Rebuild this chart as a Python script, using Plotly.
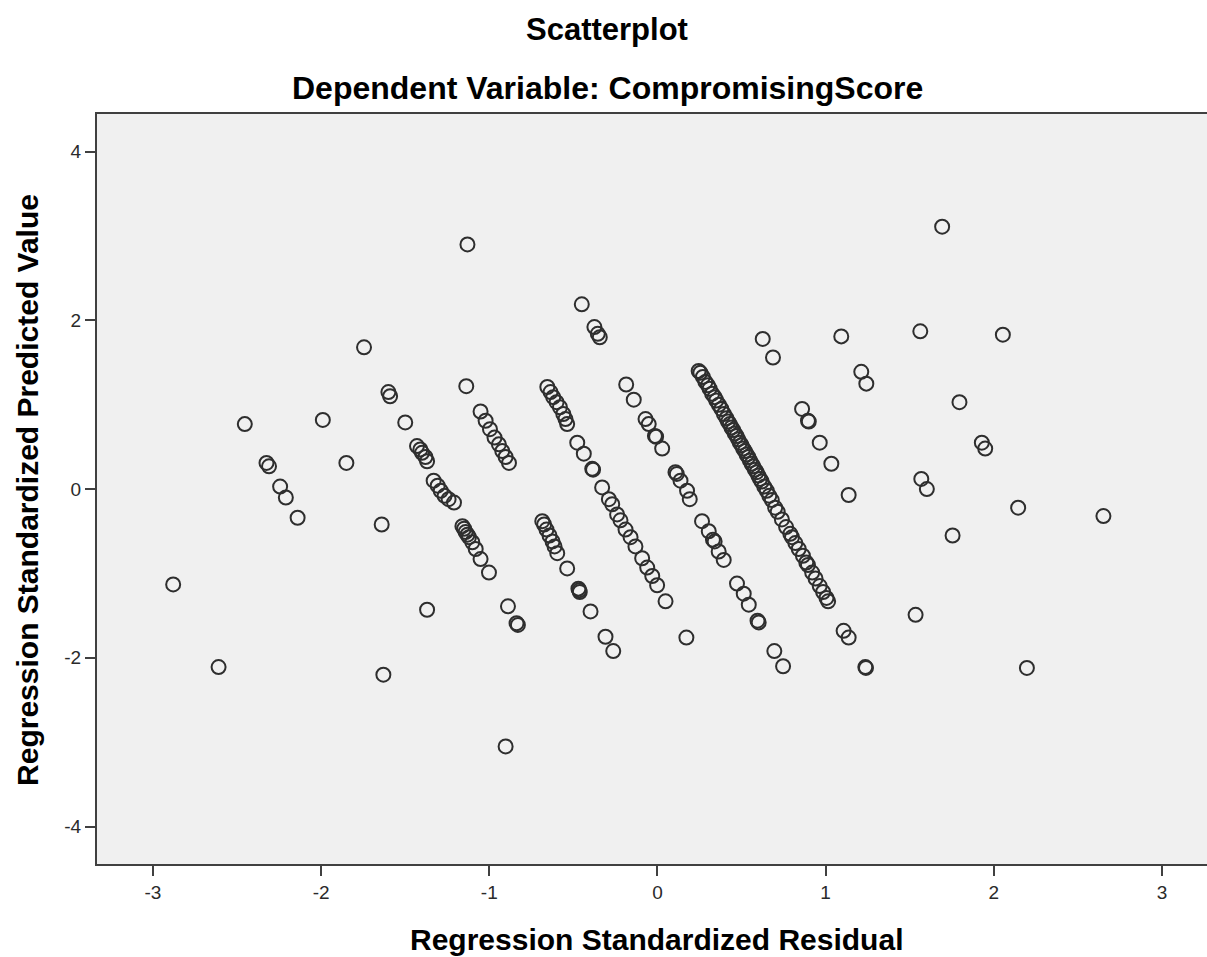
import plotly.graph_objects as go

# Regression Standardized Residual (x) and Regression Standardized Predicted Value (y)
residual = [
    # left, sparse
    -2.88, -2.61, -2.454, -2.325, -2.31, -2.244, -2.21, -2.14, -1.99, -1.85, -1.745,
    -1.64, -1.63, -1.60, -1.59, -1.50, -1.43, -1.41, -1.40, -1.38, -1.37, -1.37,
    # centre-left
    -1.13, -0.45, -0.375, -0.355, -0.343, -1.137,
    -1.052, -1.022, -0.996, -0.969, -0.943, -0.923, -0.903, -0.883,
    -0.655, -0.636, -0.620, -0.600, -0.580, -0.560, -0.547, -0.537,
    -0.477, -0.438, -0.388, -0.383,
    -0.186, -0.141, -0.071, -0.052, -0.015, -0.008, 0.028,
    -1.331, -1.307, -1.289, -1.266, -1.242, -1.21,
    -1.160, -1.150, -1.141, -1.130, -1.121, -1.101, -1.081, -1.052, -1.002,
    -0.889, -0.838, -0.830, -0.903,
    -0.685, -0.674, -0.660, -0.642, -0.624, -0.612, -0.596,
    -0.537, -0.470, -0.465, -0.462, -0.398, -0.309, -0.263,
    -0.329, -0.289, -0.269, -0.240, -0.220, -0.190, -0.160, -0.131, -0.091, -0.061, -0.031, -0.002, 0.048,
    # centre-right
    0.626, 0.687, 1.093, 1.212, 1.242, 0.860, 0.895, 0.900, 0.965, 1.034, 1.137,
    0.107, 0.115, 0.137, 0.176, 0.192,
    0.265, 0.305, 0.330, 0.340, 0.364, 0.394,
    0.473, 0.513, 0.543, 0.595, 0.602,
    0.172, 0.695, 0.747, 1.107, 1.137, 1.236, 1.240,
    # main dense diagonal
    0.245, 0.255, 0.270, 0.285, 0.300, 0.310, 0.325, 0.340, 0.350, 0.365, 0.380, 0.395,
    0.410, 0.420, 0.430, 0.440, 0.450, 0.460, 0.470, 0.480, 0.490, 0.500, 0.510, 0.520,
    0.530, 0.540, 0.550, 0.560, 0.570, 0.580, 0.590, 0.600, 0.610, 0.620, 0.635, 0.650,
    0.665, 0.680, 0.700, 0.715, 0.740, 0.765, 0.790, 0.800, 0.820, 0.840, 0.865, 0.885,
    0.895, 0.920, 0.940, 0.965, 0.985, 1.005, 1.015,
    # right, sparse
    1.693, 1.563, 2.054, 1.796, 1.929, 1.949, 1.569, 1.602, 2.145, 2.652, 1.755, 1.535, 2.197,
]

predicted = [
    # left, sparse
    -1.13, -2.11, 0.77, 0.31, 0.27, 0.03, -0.10, -0.34, 0.82, 0.31, 1.68,
    -0.42, -2.20, 1.15, 1.10, 0.79, 0.51, 0.47, 0.43, 0.38, 0.33, -1.43,
    # centre-left
    2.90, 2.19, 1.92, 1.84, 1.80, 1.22,
    0.92, 0.81, 0.71, 0.61, 0.53, 0.45, 0.38, 0.31,
    1.21, 1.15, 1.09, 1.03, 0.97, 0.89, 0.83, 0.77,
    0.55, 0.42, 0.24, 0.23,
    1.24, 1.06, 0.83, 0.77, 0.63, 0.62, 0.48,
    0.10, 0.04, -0.02, -0.08, -0.12, -0.16,
    -0.44, -0.47, -0.51, -0.54, -0.57, -0.63, -0.71, -0.83, -0.99,
    -1.39, -1.59, -1.61, -3.05,
    -0.38, -0.42, -0.48, -0.55, -0.62, -0.68, -0.76,
    -0.94, -1.18, -1.20, -1.22, -1.45, -1.75, -1.92,
    0.02, -0.12, -0.18, -0.30, -0.37, -0.48, -0.57, -0.68, -0.82, -0.93, -1.03, -1.14, -1.33,
    # centre-right
    1.78, 1.56, 1.81, 1.39, 1.25, 0.95, 0.81, 0.80, 0.55, 0.30, -0.07,
    0.20, 0.18, 0.10, -0.02, -0.12,
    -0.38, -0.50, -0.60, -0.62, -0.74, -0.84,
    -1.12, -1.24, -1.37, -1.56, -1.58,
    -1.76, -1.92, -2.10, -1.68, -1.76, -2.11, -2.12,
    # main dense diagonal
    1.40, 1.38, 1.33, 1.27, 1.23, 1.19, 1.13, 1.09, 1.05, 1.00, 0.95, 0.89,
    0.84, 0.80, 0.77, 0.73, 0.70, 0.66, 0.63, 0.59, 0.55, 0.52, 0.48, 0.45,
    0.41, 0.38, 0.34, 0.30, 0.27, 0.23, 0.20, 0.16, 0.12, 0.09, 0.03, -0.02,
    -0.08, -0.13, -0.22, -0.27, -0.36, -0.45, -0.53, -0.57, -0.64, -0.71, -0.79, -0.87,
    -0.90, -0.99, -1.06, -1.15, -1.22, -1.29, -1.33,
    # right, sparse
    3.11, 1.87, 1.83, 1.03, 0.55, 0.48, 0.12, 0.00, -0.22, -0.32, -0.55, -1.49, -2.12,
]

x_ticks = [-3, -2, -1, 0, 1, 2, 3]
x_tick_labels = ["-3", "-2", "-1", "0", "1", "2", "3"]
y_ticks = [-4, -2, 0, 2, 4]
y_tick_labels = ["-4", "-2", "0", "2", "4"]

title_main = "Scatterplot"
title_sub = "Dependent Variable: CompromisingScore"
x_title = "Regression Standardized Residual"
y_title = "Regression Standardized Predicted Value"

FONT = "Arial, Liberation Sans, sans-serif"
AXIS_COLOR = "#404040"

fig = go.Figure()
fig.add_trace(go.Scatter(
    x=residual, y=predicted, mode="markers",
    marker=dict(symbol="circle", size=14, color="rgba(0,0,0,0)",
                line=dict(color="#2e2e2e", width=2)),
    hoverinfo="x+y", showlegend=False,
))

fig.update_layout(
    width=1207, height=957,
    margin=dict(l=97, r=0, t=114, b=93, pad=0),
    paper_bgcolor="white", plot_bgcolor="#f0f0f0",
    font=dict(family=FONT, color="#333333"),
    xaxis=dict(range=[-3.333, 3.268], tickvals=x_ticks, ticktext=x_tick_labels,
               showgrid=False, zeroline=False,
               showline=True, linecolor=AXIS_COLOR, linewidth=2, mirror=True,
               ticks="outside", ticklen=10, tickwidth=2, tickcolor=AXIS_COLOR,
               tickfont=dict(size=19, color="#2a2a2a", family=FONT)),
    yaxis=dict(range=[-4.444, 4.446], tickvals=y_ticks, ticktext=y_tick_labels,
               showgrid=False, zeroline=False,
               showline=True, linecolor=AXIS_COLOR, linewidth=2, mirror=False,
               ticks="outside", ticklen=10, tickwidth=2, tickcolor=AXIS_COLOR,
               tickfont=dict(size=19, color="#2a2a2a", family=FONT)),
    annotations=[
        dict(text="<b>%s</b>" % title_main, xref="paper", yref="paper", x=0.4595, y=1.112,
             xanchor="center", yanchor="middle", showarrow=False,
             font=dict(size=31, color="black", family=FONT)),
        dict(text="<b>%s</b>" % title_sub, xref="paper", yref="paper", x=0.4595, y=1.0347,
             xanchor="center", yanchor="middle", showarrow=False,
             font=dict(size=32, color="black", family=FONT)),
        dict(text="<b>%s</b>" % x_title, xref="paper", yref="paper", x=0.5045, y=-0.1013,
             xanchor="center", yanchor="middle", showarrow=False,
             font=dict(size=30, color="black", family=FONT)),
        dict(text="<b>%s</b>" % y_title, xref="paper", yref="paper", x=-0.0622, y=0.4987,
             xanchor="center", yanchor="middle", showarrow=False, textangle=-90,
             font=dict(size=30, color="black", family=FONT)),
    ],
)

fig.write_html("out.html")
